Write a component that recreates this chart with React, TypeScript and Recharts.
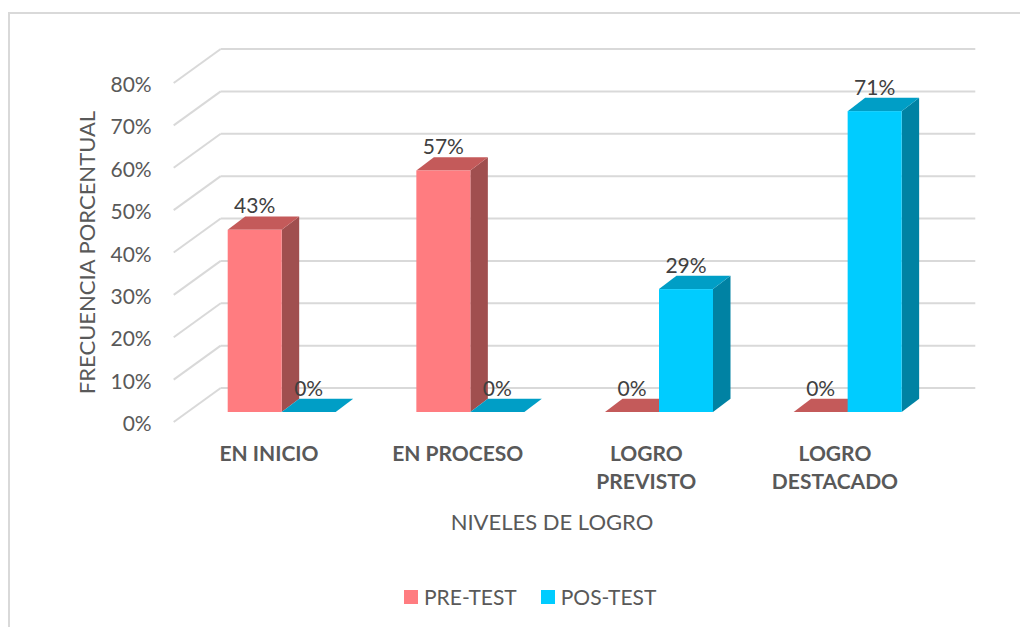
import React from 'react'
import { BarChart, Bar, XAxis, YAxis, CartesianGrid, Legend, LabelList } from 'recharts'

const categories = ['EN INICIO', 'EN PROCESO', 'LOGRO PREVISTO', 'LOGRO DESTACADO']
const preTest = [43, 57, 0, 0]
const posTest = [0, 0, 29, 71]
const yTicks = [0, 10, 20, 30, 40, 50, 60, 70, 80]
const seriesNames = ['PRE-TEST', 'POS-TEST']

const data = categories.map((name, i) => ({ name, pre: preTest[i], pos: posTest[i] }))

const FONT = 'Lato, "Open Sans", sans-serif'
const TEXT = '#595959'
const GRID = '#d9d9d9'

// depth of the bars and floor (3d look, Excel style)
const BAR_DX = 17.5
const BAR_DY = -13.3
const FRONT = { dx: -14, dy: 10 }
const BACK = { dx: 33, dy: -24 }

const PRE = { front: '#ff7c80', top: '#c45a5a', side: '#a04f4f' }
const POS = { front: '#00ccff', top: '#009ec6', side: '#0082a3' }

function box3d(colors: { front: string; top: string; side: string }) {
  return (props: any) => {
    const { x, y, width, height } = props
    if (x == null || y == null) return null
    const h = Math.max(0, height || 0)
    const top = `${x},${y} ${x + BAR_DX},${y + BAR_DY} ${x + width + BAR_DX},${y + BAR_DY} ${x + width},${y}`
    const side = `${x + width},${y} ${x + width + BAR_DX},${y + BAR_DY} ${x + width + BAR_DX},${y + h + BAR_DY} ${x + width},${y + h}`
    return (
      <g>
        <polygon points={side} fill={colors.side} />
        <polygon points={top} fill={colors.top} />
        <rect x={x} y={y} width={width} height={h} fill={colors.front} />
      </g>
    )
  }
}

const gridLine = (props: any) => {
  const { x1, x2, y1, index } = props
  return (
    <g key={`g-${index}-${y1}`}>
      <line x1={x1 + FRONT.dx} y1={y1 + FRONT.dy} x2={x1 + BACK.dx} y2={y1 + BACK.dy} stroke={GRID} strokeWidth={2} />
      <line x1={x1 + BACK.dx} y1={y1 + BACK.dy} x2={x2 + BACK.dx} y2={y1 + BACK.dy} stroke={GRID} strokeWidth={2} />
    </g>
  )
}

const YTick = ({ x, y, payload }: any) => (
  <text x={x - 36} y={y + 19} textAnchor="end" fontFamily={FONT} fontSize={21} fill={TEXT}>
    {`${payload.value}%`}
  </text>
)

const XTick = ({ x, y, payload }: any) => {
  const words = String(payload.value).split(' ')
  const lines = payload.value.length > 10 ? [words[0], words.slice(1).join(' ')] : [payload.value]
  return (
    <text textAnchor="middle" fontFamily={FONT} fontSize={21} fontWeight={700} fill={TEXT}>
      {lines.map((l: string, i: number) => (
        <tspan key={i} x={x - 13} y={y + 48.5 + i * 28}>{l}</tspan>
      ))}
    </text>
  )
}

const valueLabel = (props: any) => {
  const { x, y, width, value } = props
  return (
    <text x={x + width / 2} y={y - 16.5} textAnchor="middle" fontFamily={FONT} fontSize={21} fill="#404040">
      {`${value}%`}
    </text>
  )
}

const YTitle = ({ viewBox }: any) => {
  const cx = viewBox.x - 41.7
  const cy = viewBox.y + viewBox.height / 2 + 10
  return (
    <text x={cx} y={cy} transform={`rotate(-90, ${cx}, ${cy})`} textAnchor="middle" dominantBaseline="central"
      fontFamily={FONT} fontSize={22} fill={TEXT}>
      FRECUENCIA PORCENTUAL
    </text>
  )
}

const XTitle = ({ viewBox }: any) => (
  <text x={viewBox.x + viewBox.width / 2 - 13} y={viewBox.y + 117.5} textAnchor="middle"
    fontFamily={FONT} fontSize={22} fill={TEXT}>
    NIVELES DE LOGRO
  </text>
)

const LegendBox = () => (
  <div style={{ display: 'flex', alignItems: 'center', fontFamily: FONT, fontSize: 21, color: TEXT, lineHeight: '26px' }}>
    {seriesNames.map((n, i) => (
      <div key={n} style={{ display: 'flex', alignItems: 'center', marginRight: i === 0 ? 24 : 0 }}>
        <span style={{ width: 14, height: 14, background: i === 0 ? PRE.front : POS.front, marginRight: 6 }} />
        <span>{n}</span>
      </div>
    ))}
  </div>
)

export default function App() {
  return (
    <div style={{ position: 'absolute', left: 0, top: 0, width: 1020, height: 627, background: '#fff' }}>
      <div style={{ position: 'absolute', left: 8, top: 12, right: 0, bottom: 0, borderTop: `2px solid ${GRID}`, borderLeft: `2px solid ${GRID}` }} />
      <BarChart width={1020} height={627} data={data} barGap={0} barSize={54}
        margin={{ top: 73, right: 77.7, left: 127.7, bottom: 155 }}>
        <CartesianGrid vertical={false} horizontal={gridLine} />
        <XAxis dataKey="name" height={60} axisLine={false} tickLine={false} tickSize={0} tickMargin={0}
          tick={<XTick />} interval={0} label={<XTitle />} />
        <YAxis width={60} domain={[0, 80]} ticks={yTicks} axisLine={false} tickLine={false} tickSize={0} tickMargin={0}
          tick={<YTick />} label={<YTitle />} />
        <Legend verticalAlign="middle" align="center" content={<LegendBox />}
          wrapperStyle={{ top: 584, left: 404, width: 'auto', height: 'auto' }} />
        <Bar dataKey="pre" name={seriesNames[0]} fill={PRE.front} shape={box3d(PRE)} isAnimationActive={false}>
          <LabelList dataKey="pre" content={valueLabel} />
        </Bar>
        <Bar dataKey="pos" name={seriesNames[1]} fill={POS.front} shape={box3d(POS)} isAnimationActive={false}>
          <LabelList dataKey="pos" content={valueLabel} />
        </Bar>
      </BarChart>
    </div>
  )
}
